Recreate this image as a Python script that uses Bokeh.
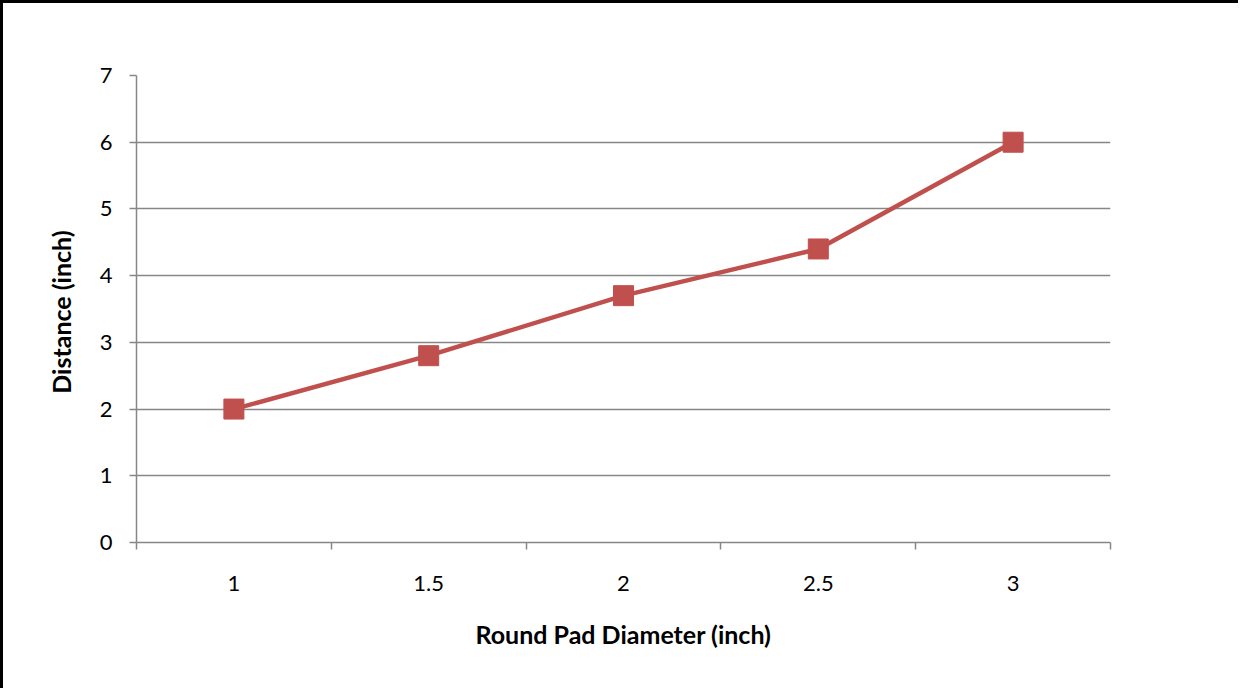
from bokeh.plotting import figure
from bokeh.models import FixedTicker, Range1d
from bokeh.embed import file_html
from bokeh.resources import INLINE

categories = ["1", "1.5", "2", "2.5", "3"]
distance = [2, 2.8, 3.7, 4.4, 6]
y_ticks = [0, 1, 2, 3, 4, 5, 6, 7]

xs = list(range(len(categories)))

p = figure(width=1238, height=688, output_backend="svg", toolbar_location=None,
           x_range=Range1d(-0.5, len(categories) - 0.5), y_range=Range1d(0, 7))
p.min_border_left = 133
p.min_border_right = 131
p.min_border_top = 72
p.min_border_bottom = 149
p.outline_line_color = None
p.styles = {"border-left": "3px solid black", "border-top": "3px solid black"}

grid_color = "#878787"
font = "Lato"

p.line(xs, distance, line_color="#C0504D", line_width=4.5)
p.scatter(xs, distance, marker="square", size=20, fill_color="#C0504D", line_color="#C0504D")

# x axis
p.xaxis.ticker = FixedTicker(ticks=xs, minor_ticks=[i - 0.5 for i in range(len(categories) + 1)])
p.xaxis.major_label_overrides = {i: c for i, c in enumerate(categories)}
p.xaxis.major_tick_out = 0
p.xaxis.major_tick_in = 0
p.xaxis.minor_tick_out = 7
p.xaxis.minor_tick_in = 0
p.xaxis.minor_tick_line_color = grid_color
p.xaxis.minor_tick_line_width = 1.5
p.xaxis.axis_line_color = grid_color
p.xaxis.axis_line_width = 1.5
p.xaxis.major_label_standoff = 26
p.xaxis.major_label_text_font = font
p.xaxis.major_label_text_font_size = "22px"
p.xaxis.major_label_text_color = "black"
p.xaxis.axis_label = "Round Pad Diameter (inch)"
p.xaxis.axis_label_text_font = font
p.xaxis.axis_label_text_font_style = "bold"
p.xaxis.axis_label_text_font_size = "25px"
p.xaxis.axis_label_text_color = "black"
p.xaxis.axis_label_standoff = 25

# y axis
p.yaxis.ticker = FixedTicker(ticks=y_ticks, minor_ticks=[])
p.yaxis.major_tick_out = 7
p.yaxis.major_tick_in = 0
p.yaxis.major_tick_line_color = grid_color
p.yaxis.major_tick_line_width = 1.5
p.yaxis.axis_line_color = grid_color
p.yaxis.axis_line_width = 1.5
p.yaxis.major_label_standoff = 17
p.yaxis.major_label_text_font = font
p.yaxis.major_label_text_font_size = "22px"
p.yaxis.major_label_text_color = "black"
p.yaxis.axis_label = "Distance  (inch)"
p.yaxis.axis_label_text_font = font
p.yaxis.axis_label_text_font_style = "bold"
p.yaxis.axis_label_text_font_size = "25px"
p.yaxis.axis_label_text_color = "black"
p.yaxis.axis_label_standoff = 21

p.xgrid.grid_line_color = None
p.ygrid.ticker = FixedTicker(ticks=y_ticks)
p.ygrid.grid_line_color = grid_color
p.ygrid.grid_line_width = 1.5

open("out.html", "w").write(file_html(p, INLINE))
